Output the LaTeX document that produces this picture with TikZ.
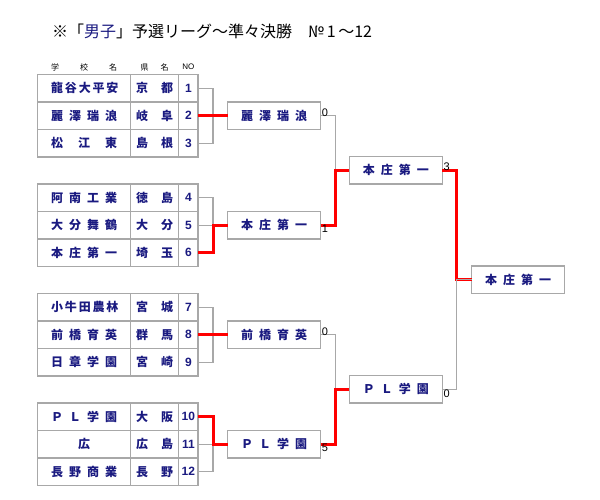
\documentclass[tikz,border=0pt]{standalone}
\usepackage{fontspec}
\setmainfont{Noto Sans CJK JP}
\newfontfamily\numfont{Liberation Sans}
\usetikzlibrary{positioning}
\definecolor{navy}{HTML}{1A1A80}
\definecolor{linegrey}{HTML}{A8A8A8}
\definecolor{winred}{HTML}{FF0000}

\newcommand\spreadname[1]{\makebox[66pt][s]{#1}}
\newcommand\spreadpref[1]{\makebox[37pt][s]{#1}}

\tikzset{
  cell/.style={draw=linegrey, line width=1.2pt, minimum height=27.5pt, inner sep=0pt, outer sep=0pt,
    text=navy, font=\bfseries\fontsize{12}{12}\selectfont},
  school/.style={cell, minimum width=93.2pt},
  pref/.style={cell, minimum width=48pt},
  numcell/.style={cell, minimum width=19.3pt, font=\numfont\bfseries\fontsize{12}{12}\selectfont},
  teambox/.style={cell, minimum width=93pt},
  score/.style={font=\numfont\fontsize{11}{11}\selectfont, inner sep=1pt},
  head/.style={font=\fontsize{8}{8}\selectfont, inner sep=0pt},
  loser/.style={draw=linegrey, line width=1.2pt},
  winner/.style={draw=winred, line width=3pt}
}

\begin{document}
\begin{tikzpicture}[x=1pt,y=-1pt]
\useasboundingbox (0,0) rectangle (600,500);

% title
\node[anchor=west, inner sep=0pt, font=\fontsize{16}{16}\selectfont] (title) at (52,31.7)
  {※「\textcolor{navy}{男子}」予選リーグ～準々決勝　№\,1\,～12};

% column heads
\node[head] (hschool) at (84.1,67) {\makebox[66pt][s]{学 校 名}};
\node[head] (hpref) at (154.7,67) {\makebox[28pt][s]{県 名}};
\node[head, font=\numfont\fontsize{8}{8}\selectfont] (hno) at (188.3,67) {NO};

% entry table
\foreach \i/\nm/\pf in {1/{龍 谷 大 平 安}/{京 都}, 2/{麗 澤 瑞 浪}/{岐 阜}, 3/{松 江 東}/{島 根},
    4/{阿 南 工 業}/{徳 島}, 5/{大 分 舞 鶴}/{大 分}, 6/{本 庄 第 一}/{埼 玉},
    7/{小 牛 田 農 林}/{宮 城}, 8/{前 橋 育 英}/{群 馬}, 9/{日 章 学 園}/{宮 崎},
    10/{Ｐ Ｌ 学 園}/{大 阪}, 11/{\hfil 広\hfil}/{広 島}, 12/{長 野 商 業}/{長 野}} {
  \pgfmathsetmacro\y{88.2+27.5*(\i-1)+27*floor((\i-1)/3)}
  \node[school] (s\i) at (84.1,\y) {\spreadname{\nm}};
  \node[pref, right=0pt of s\i] (p\i) {\spreadpref{\pf}};
  \node[numcell, right=0pt of p\i] (n\i) {\i};
}

% first round winners
\node[teambox, right=29.7pt of n2] (r1) {\spreadname{麗 澤 瑞 浪}};
\node[teambox, right=29.7pt of n5] (r2) {\spreadname{本 庄 第 一}};
\node[teambox, right=29.7pt of n8] (r3) {\spreadname{前 橋 育 英}};
\node[teambox, right=29.7pt of n11] (r4) {\spreadname{Ｐ Ｌ 学 園}};

% semi finals and winner
\node[teambox] (q1) at (395.8,170.3) {\spreadname{本 庄 第 一}};
\node[teambox] (q2) at (395.8,389.3) {\spreadname{Ｐ Ｌ 学 園}};
\node[teambox] (fin) at (518,279.8) {\spreadname{本 庄 第 一}};

% league brackets
\foreach \a/\b/\c in {1/2/3, 4/5/6, 7/8/9, 10/11/12} {
  \draw[loser] (n\a.east) -- ++(15pt,0) |- (n\c.east);
  \draw[loser] (n\b.east) -- ++(15pt,0);
}
\draw[winner] (n2.east) -- (r1.west);
\draw[winner] (n6.east) -- ++(15pt,0) |- (r2.west);
\draw[winner] (n8.east) -- (r3.west);
\draw[winner] (n10.east) -- ++(15pt,0) |- (r4.west);

% knockout
\draw[loser] (r1.east) -- ++(14.5pt,0) |- (q1.west);
\draw[winner] (r2.east) -- ++(14.5pt,0) |- (q1.west);
\draw[loser] (r3.east) -- ++(14.5pt,0) |- (q2.west);
\draw[winner] (r4.east) -- ++(14.5pt,0) |- (q2.west);
\draw[winner] (q1.east) -- ++(14.5pt,0) |- (fin.west);
\draw[loser] (q2.east) -- ++(14.5pt,0) |- (fin.west);

% scores
\node[score, anchor=south west] (sc1) at ([yshift=-2pt]r1.east) {0};
\node[score, anchor=north west] (sc2) at ([yshift=1pt]r2.east) {1};
\node[score, anchor=south west] (sc3) at ([yshift=-2pt]r3.east) {0};
\node[score, anchor=north west] (sc4) at ([yshift=1pt]r4.east) {5};
\node[score, anchor=south west] (sc5) at ([yshift=-2pt]q1.east) {3};
\node[score, anchor=north west] (sc6) at ([yshift=1pt]q2.east) {0};
\end{tikzpicture}
\end{document}
